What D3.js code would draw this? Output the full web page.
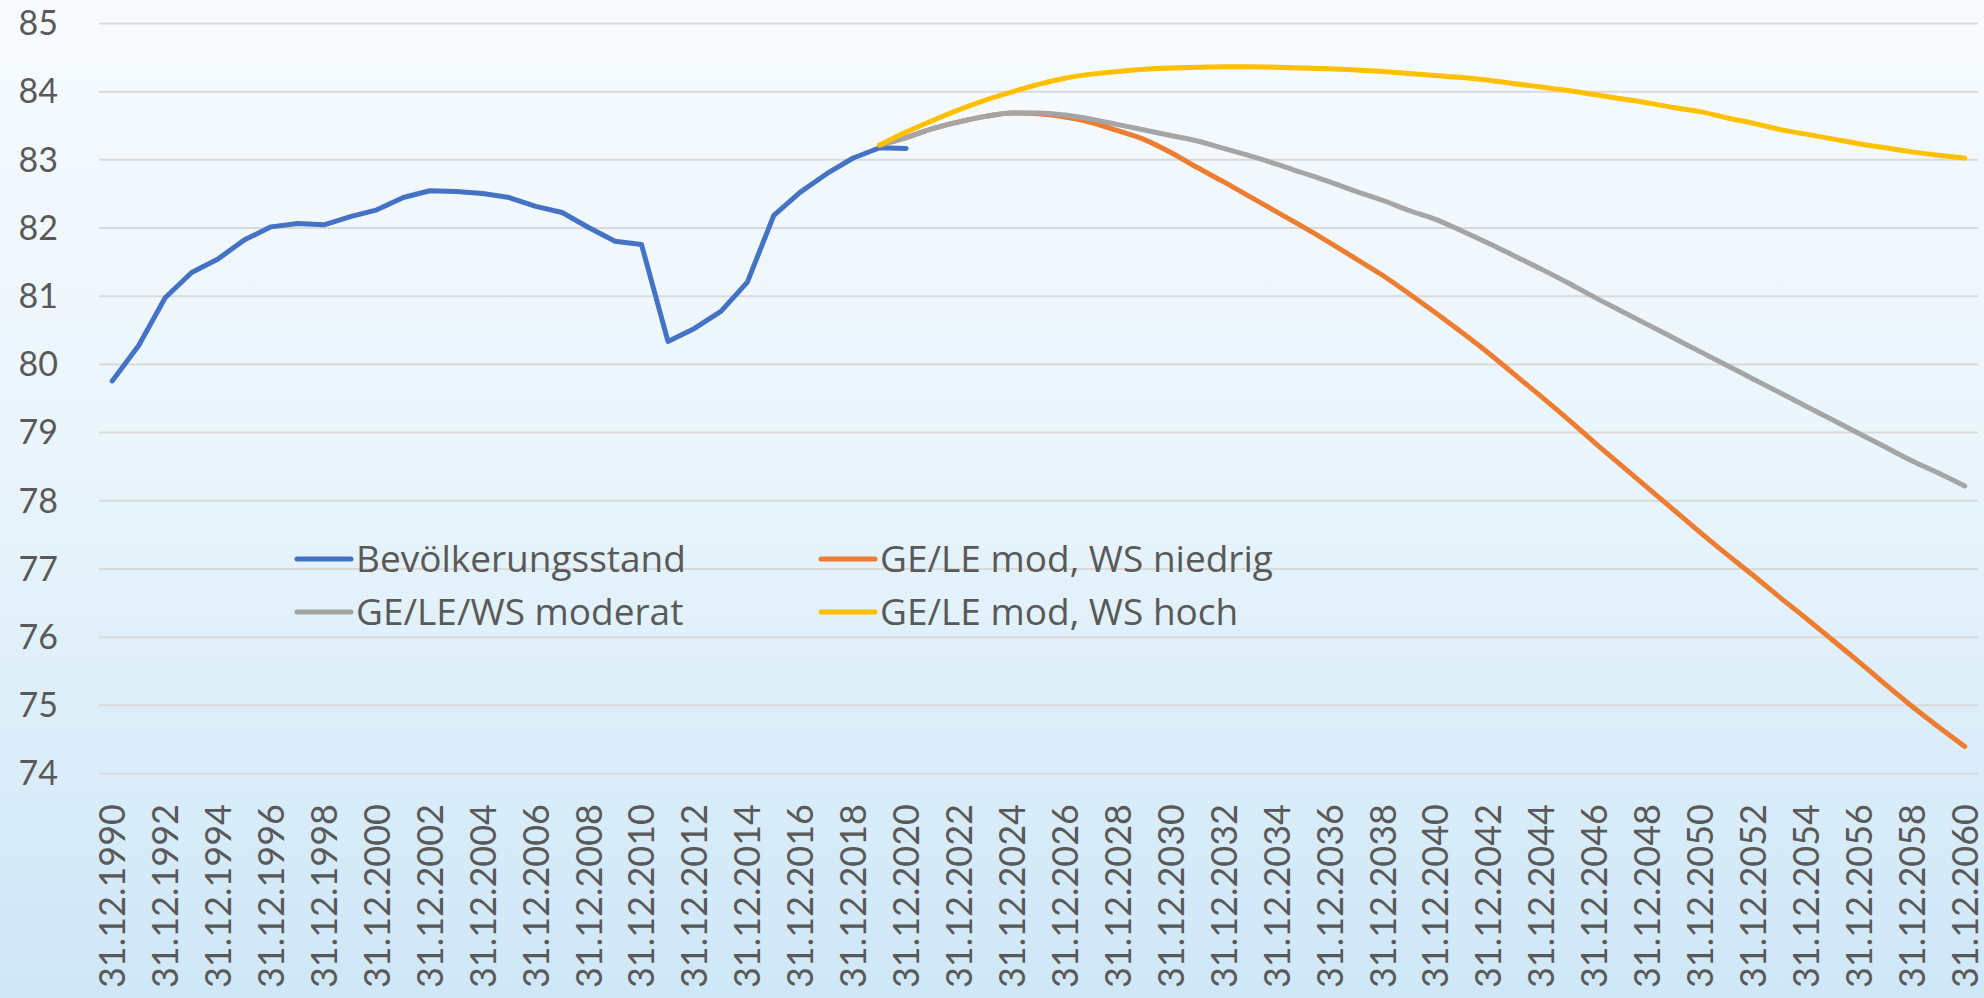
<!DOCTYPE html>
<html>
<head>
<meta charset="utf-8">
<script src="https://cdn.jsdelivr.net/npm/d3@7"></script>
<style>
    html, body { margin: 0; padding: 0; overflow: hidden; }
    text { font-family: Lato, "Noto Sans", sans-serif; fill: #595959; }
    .legend-label { font-family: "Open Sans", Lato, sans-serif; }
</style>
</head>
<body>
<div id="chart"></div>
<script>
// categories: 31.12. of each year
const years = d3.range(1990, 2061);
const labelYears = years.filter((y) => (y - 1990) % 2 === 0);

// Bevölkerungsstand 1990-2020 (Mio.)
const bestandYears = d3.range(1990, 2021);
const bestand = [
    79.75, 80.27, 80.97, 81.34, 81.54, 81.82, 82.01, 82.06, 82.04, 82.16,
    82.26, 82.44, 82.54, 82.53, 82.50, 82.44, 82.31, 82.22, 82.00, 81.80,
    81.75, 80.33, 80.52, 80.77, 81.20, 82.18, 82.52, 82.79, 83.02, 83.17,
    83.16
];

// projections 2019-2060
const projYears = d3.range(2019, 2061);
const wsNiedrig = [
    83.21, 83.32, 83.45, 83.55, 83.63, 83.68, 83.67, 83.62, 83.54, 83.42,
    83.29, 83.10, 82.88, 82.67, 82.45, 82.23, 82.01, 81.78, 81.54, 81.30,
    81.03, 80.75, 80.46, 80.16, 79.84, 79.52, 79.19, 78.85, 78.52, 78.19,
    77.86, 77.53, 77.21, 76.90, 76.58, 76.27, 75.95, 75.63, 75.30, 74.98,
    74.68, 74.39
];
const moderat = [
    83.21, 83.32, 83.45, 83.55, 83.63, 83.68, 83.68, 83.65, 83.59, 83.51,
    83.43, 83.35, 83.27, 83.16, 83.05, 82.93, 82.80, 82.67, 82.53, 82.40,
    82.25, 82.12, 81.95, 81.77, 81.58, 81.39, 81.19, 80.98, 80.78, 80.58,
    80.38, 80.18, 79.98, 79.78, 79.58, 79.38, 79.18, 78.98, 78.78, 78.58,
    78.40, 78.21
];
const wsHoch = [
    83.21, 83.40, 83.57, 83.73, 83.87, 83.99, 84.10, 84.19, 84.25, 84.29,
    84.32, 84.34, 84.35, 84.36, 84.36, 84.35, 84.34, 84.33, 84.31, 84.29,
    84.26, 84.23, 84.20, 84.16, 84.11, 84.06, 84.01, 83.95, 83.89, 83.83,
    83.76, 83.70, 83.61, 83.53, 83.44, 83.37, 83.30, 83.23, 83.17, 83.11,
    83.06, 83.02
];

const yTicks = d3.range(74, 86);

const seriesNames = [
    'Bevölkerungsstand',
    'GE/LE mod, WS niedrig',
    'GE/LE/WS moderat',
    'GE/LE mod, WS hoch'
];
const seriesColors = ['#4472C4', '#ED7D31', '#A5A5A5', '#FFC000'];

class PopulationChart {
    constructor(_config) {
        this.config = {
            parentElement: _config.parentElement,
            containerWidth: 1984,
            containerHeight: 998,
            margin: { top: 23, right: 6, bottom: 225, left: 99 }
        };
        this.initVis();
    }

    initVis() {
        const vis = this;
        const c = vis.config;

        vis.width = c.containerWidth - c.margin.left - c.margin.right;
        vis.height = c.containerHeight - c.margin.top - c.margin.bottom;

        vis.svg = d3.select(c.parentElement)
            .append('svg')
            .attr('width', c.containerWidth)
            .attr('height', c.containerHeight);

        // background gradient
        const grad = vis.svg.append('defs')
            .append('linearGradient')
            .attr('id', 'bg')
            .attr('x1', 0).attr('y1', 0)
            .attr('x2', 0).attr('y2', 1);
        grad.append('stop').attr('offset', '0%').attr('stop-color', '#F7FBFE');
        grad.append('stop').attr('offset', '45%').attr('stop-color', '#EAF5FC');
        grad.append('stop').attr('offset', '100%').attr('stop-color', '#CFE7F7');

        vis.svg.append('rect')
            .attr('width', c.containerWidth)
            .attr('height', c.containerHeight)
            .attr('fill', 'url(#bg)');

        vis.chart = vis.svg.append('g')
            .attr('transform', `translate(${c.margin.left},${c.margin.top})`);

        vis.xScale = d3.scaleBand()
            .domain(years)
            .range([0, vis.width])
            .padding(0);

        vis.yScale = d3.scaleLinear()
            .domain([74, 85])
            .range([vis.height, 0]);

        vis.renderVis();
    }

    xPos(year) {
        return this.xScale(year) + this.xScale.bandwidth() / 2;
    }

    renderVis() {
        const vis = this;

        // gridlines
        vis.chart.append('g')
            .attr('class', 'grid')
            .call(d3.axisLeft(vis.yScale)
                .tickValues(yTicks)
                .tickSize(-vis.width)
                .tickFormat(''))
            .call((g) => g.select('.domain').remove())
            .call((g) => g.selectAll('line')
                .attr('stroke', '#D9D9D9')
                .attr('stroke-width', 2));

        // y labels
        vis.chart.append('g')
            .selectAll('text')
            .data(yTicks)
            .join('text')
            .attr('x', -41)
            .attr('y', (d) => vis.yScale(d))
            .attr('dy', '0.36em')
            .attr('text-anchor', 'end')
            .style('font-size', '34px')
            .text((d) => d);

        // x labels, rotated
        vis.chart.append('g')
            .selectAll('text')
            .data(labelYears)
            .join('text')
            .attr('transform', (d) => `translate(${vis.xPos(d)},${vis.height + 31}) rotate(-90)`)
            .attr('dy', '0.36em')
            .attr('text-anchor', 'end')
            .style('font-size', '36px')
            .text((d) => `31.12.${d}`);

        const line = d3.line()
            .x((d) => vis.xPos(d[0]))
            .y((d) => vis.yScale(d[1]));

        const smooth = d3.line()
            .x((d) => vis.xPos(d[0]))
            .y((d) => vis.yScale(d[1]))
            .curve(d3.curveMonotoneX);

        const seriesData = [
            { pts: d3.zip(bestandYears, bestand), gen: line },
            { pts: d3.zip(projYears, wsNiedrig), gen: smooth },
            { pts: d3.zip(projYears, moderat), gen: smooth },
            { pts: d3.zip(projYears, wsHoch), gen: smooth }
        ];

        vis.chart.append('g')
            .selectAll('path')
            .data(seriesData)
            .join('path')
            .attr('d', (d) => d.gen(d.pts))
            .attr('fill', 'none')
            .attr('stroke', (d, i) => seriesColors[i])
            .attr('stroke-width', 5)
            .attr('stroke-linejoin', 'round')
            .attr('stroke-linecap', 'round');

        // legend, 2 x 2
        const legendX = [198, 722];
        const legendY = [536, 589];
        const legend = vis.chart.append('g')
            .selectAll('g')
            .data(seriesNames)
            .join('g')
            .attr('transform', (d, i) => `translate(${legendX[i % 2]},${legendY[Math.floor(i / 2)]})`);

        legend.append('line')
            .attr('x1', 0).attr('x2', 54)
            .attr('stroke', (d, i) => seriesColors[i])
            .attr('stroke-width', 5)
            .attr('stroke-linecap', 'round');

        legend.append('text')
            .attr('class', 'legend-label')
            .attr('x', 59)
            .attr('dy', '0.36em')
            .style('font-size', '37px')
            .text((d) => d);
    }
}

new PopulationChart({ parentElement: '#chart' });
</script>
</body>
</html>
